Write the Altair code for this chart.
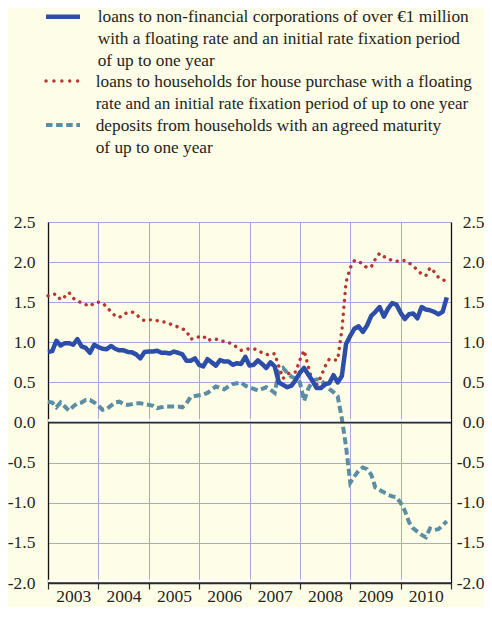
import altair as alt
import pandas as pd

years = list(range(2003, 2011))
months = [f"{y}-{m:02d}" for y in years for m in range(1, 13)]

corporate_loans = [
    0.88, 0.89, 1.02, 0.96, 0.99, 0.99, 0.97, 1.04, 0.95, 0.93, 0.87, 0.97,
    0.94, 0.92, 0.915, 0.955, 0.92, 0.90, 0.90, 0.88, 0.875, 0.85, 0.80, 0.88,
    0.885, 0.885, 0.895, 0.87, 0.87, 0.86, 0.885, 0.87, 0.85, 0.77, 0.77, 0.80,
    0.72, 0.70, 0.79, 0.75, 0.71, 0.78, 0.76, 0.76, 0.72, 0.74, 0.73, 0.82,
    0.71, 0.72, 0.775, 0.73, 0.68, 0.75, 0.70, 0.50, 0.47, 0.44, 0.46, 0.53,
    0.62, 0.68, 0.60, 0.52, 0.43, 0.43, 0.48, 0.49, 0.59, 0.50, 0.58, 0.98,
    1.08, 1.17, 1.20, 1.13, 1.21, 1.33, 1.38, 1.44, 1.32, 1.42, 1.49, 1.47,
    1.37, 1.29, 1.35, 1.36, 1.30, 1.44, 1.41, 1.40, 1.38, 1.35, 1.38, 1.56,
]
house_loans = [
    1.58, 1.60, 1.60, 1.53, 1.57, 1.62, 1.55, 1.52, 1.49, 1.47, 1.45, 1.49,
    1.50, 1.49, 1.44, 1.38, 1.33, 1.31, 1.35, 1.37, 1.38, 1.35, 1.30, 1.27,
    1.28, 1.28, 1.27, 1.26, 1.25, 1.23, 1.21, 1.19, 1.17, 1.14, 1.04, 1.05,
    1.07, 1.08, 1.02, 1.04, 1.04, 1.02, 1.01, 1.00, 0.97, 0.94, 0.90, 0.91,
    0.92, 0.92, 0.90, 0.87, 0.85, 0.84, 0.86, 0.70, 0.55, 0.60, 0.63, 0.63,
    0.78, 0.90, 0.70, 0.50, 0.47, 0.57, 0.70, 0.79, 0.78, 0.78, 1.15, 1.75,
    1.93, 2.02, 2.01, 1.97, 1.93, 1.94, 2.04, 2.11, 2.07, 2.04, 2.02, 2.01,
    2.02, 2.02, 1.99, 1.95, 1.90, 1.85, 1.83, 1.93, 1.88, 1.81, 1.78, 1.76,
]
deposits = [
    0.26, 0.25, 0.19, 0.25, 0.20, 0.15, 0.20, 0.24, 0.25, 0.28, 0.28, 0.25,
    0.21, 0.16, 0.17, 0.21, 0.25, 0.26, 0.23, 0.22, 0.23, 0.24, 0.24, 0.23,
    0.22, 0.21, 0.18, 0.19, 0.20, 0.20, 0.20, 0.20, 0.19, 0.24, 0.32, 0.33,
    0.34, 0.35, 0.37, 0.41, 0.45, 0.43, 0.415, 0.45, 0.48, 0.49, 0.50, 0.46,
    0.44, 0.42, 0.40, 0.42, 0.44, 0.41, 0.37, 0.64, 0.68, 0.62, 0.57, 0.55,
    0.50, 0.27, 0.42, 0.52, 0.54, 0.53, 0.47, 0.42, 0.38, 0.33, 0.05, -0.30,
    -0.75, -0.67, -0.60, -0.56, -0.58, -0.65, -0.81, -0.84, -0.87, -0.90, -0.92, -0.93,
    -1.00, -1.10, -1.24, -1.32, -1.36, -1.40, -1.43, -1.32, -1.34, -1.33, -1.28, -1.23,
]

y_ticks = [-2.0, -1.5, -1.0, -0.5, 0.0, 0.5, 1.0, 1.5, 2.0, 2.5]
x_ticks = years + [2011]

legend_corp = "loans to non-financial corporations of over €1 million\nwith a floating rate and an initial rate fixation period\nof up to one year"
legend_house_1 = "loans to households for house purchase with a floating"
legend_house_2 = "rate and an initial rate fixation period of up to one year"
legend_dep = "deposits from households with an agreed maturity\nof up to one year"

BG = "#FEFDE8"
BLUE = "#2C4DA8"
RED = "#B8372D"
TEAL = "#5B8EA2"
GRID = "#A5A8E0"
DARK = "#2B2B2B"
TXT = "#231F20"
FONT = "Liberation Serif, Times New Roman, DejaVu Serif, serif"
AX_FS = 17.5
LEG_FS = 17.3
TOP = 214
PLOT_H = 361


def month_pos(s):
    y, m = s.split("-")
    return int(y) + (int(m) - 1) / 12


df = pd.DataFrame({
    "month": months,
    "t": [month_pos(s) for s in months],
    "corp": corporate_loans,
    "house": house_loans,
    "dep": deposits,
})

y_scale = alt.Scale(domain=[-2.0, 2.5], nice=False, zero=False)
x_scale = alt.Scale(domain=[2003, 2011], nice=False, zero=False)
lab_expr = "(datum.value < 0 ? '-' : '') + format(abs(datum.value), '.1f')"

x_axis = alt.Axis(
    values=x_ticks, format="d", labelExpr="datum.value < 2011 ? datum.label : ''",
    labelOffset=25.2, labelFont=FONT, labelFontSize=AX_FS, labelColor=TXT,
    labelPadding=12, labelFlush=False, labelOverlap=False, labelBaseline="alphabetic",
    tickSize=6, tickColor=DARK, tickWidth=1.2,
    domainColor=DARK, domainWidth=1.5,
    grid=True, gridColor=GRID, gridWidth=1, title=None,
)
y_axis_left = alt.Axis(
    values=y_ticks, labelExpr=lab_expr, labelFont=FONT, labelFontSize=AX_FS,
    labelColor=TXT, labelPadding=13, ticks=False, domainColor="#111111",
    domainWidth=1.3, grid=True, gridColor=GRID, gridWidth=1, title=None,
)
y_axis_right = alt.Axis(
    orient="right", values=y_ticks, labelExpr=lab_expr, labelFont=FONT,
    labelFontSize=AX_FS, labelColor=TXT, labelPadding=33, labelAlign="right",
    ticks=False, domainColor="#111111", domainWidth=1.3, grid=False, title=None,
)

X = alt.X("t:Q", scale=x_scale, axis=x_axis)

base = alt.Chart(df)

dep_line = base.mark_line(color=TEAL, strokeWidth=4, strokeDash=[7, 3.6]).encode(
    x=X, y=alt.Y("dep:Q", scale=y_scale, axis=y_axis_left))
house_line = base.mark_line(color=RED, strokeWidth=3.4, strokeDash=[0.1, 6.8],
                            strokeCap="round").encode(
    x=X, y=alt.Y("house:Q", scale=y_scale, axis=y_axis_left))
corp_line = base.mark_line(color=BLUE, strokeWidth=4.5, strokeJoin="round").encode(
    x=X, y=alt.Y("corp:Q", scale=y_scale, axis=y_axis_left))

ref_df = pd.DataFrame({"v": [0.0, -2.0]})
white_rules = alt.Chart(ref_df).mark_rule(color="white", strokeWidth=2.5, yOffset=-2).encode(
    y=alt.Y("v:Q", scale=y_scale, axis=y_axis_left))
dark_rules = alt.Chart(ref_df).mark_rule(color=DARK, strokeWidth=1.4).encode(
    y=alt.Y("v:Q", scale=y_scale, axis=y_axis_left))

one = pd.DataFrame({"k": [0]})


def rel_y(page_y):
    return page_y - 8 - TOP


def sym(color, width, dash, page_y):
    kw = dict(color=color, strokeWidth=width)
    if dash:
        kw["strokeDash"] = dash
        kw["strokeCap"] = "round" if dash[0] < 1 else "butt"
    return alt.Chart(one).mark_rule(**kw).encode(
        x=alt.value(-2), x2=alt.value(32), y=alt.value(rel_y(page_y)))


def legtext(label, page_x, page_y, size=LEG_FS):
    return alt.Chart(pd.DataFrame({"label": [label]})).mark_text(
        align="left", baseline="alphabetic", font=FONT, fontSize=size, color=TXT,
        lineBreak="\n", lineHeight=21.8,
    ).encode(text="label:N", x=alt.value(page_x - 48), y=alt.value(rel_y(page_y)))


legend = [
    sym(BLUE, 4.5, None, 16.7),
    sym(RED, 3.4, [0.1, 7.8], 81),
    sym(TEAL, 4, [6.5, 3.6], 125),
    legtext(legend_corp, 97.7, 22),
    legtext(legend_house_1, 95.7, 87),
    legtext(legend_house_2, 95.7, 108.6, 17),
    legtext(legend_dep, 95.7, 131.3),
]

left_group = alt.layer(white_rules, dep_line, house_line, corp_line, dark_rules, *legend)

right_layer = base.mark_line(opacity=0).encode(
    x=X, y=alt.Y("corp:Q", scale=y_scale, axis=y_axis_right))

chart = alt.layer(left_group, right_layer).resolve_scale(y="independent").properties(
    width=403, height=PLOT_H,
    padding={"left": 40, "top": TOP, "right": 33, "bottom": 24},
    autosize=alt.AutoSizeParams(type="none"),
    background=BG,
).configure_view(strokeWidth=0)

chart.save("out.html", embed_options={"renderer": "svg", "actions": False})
